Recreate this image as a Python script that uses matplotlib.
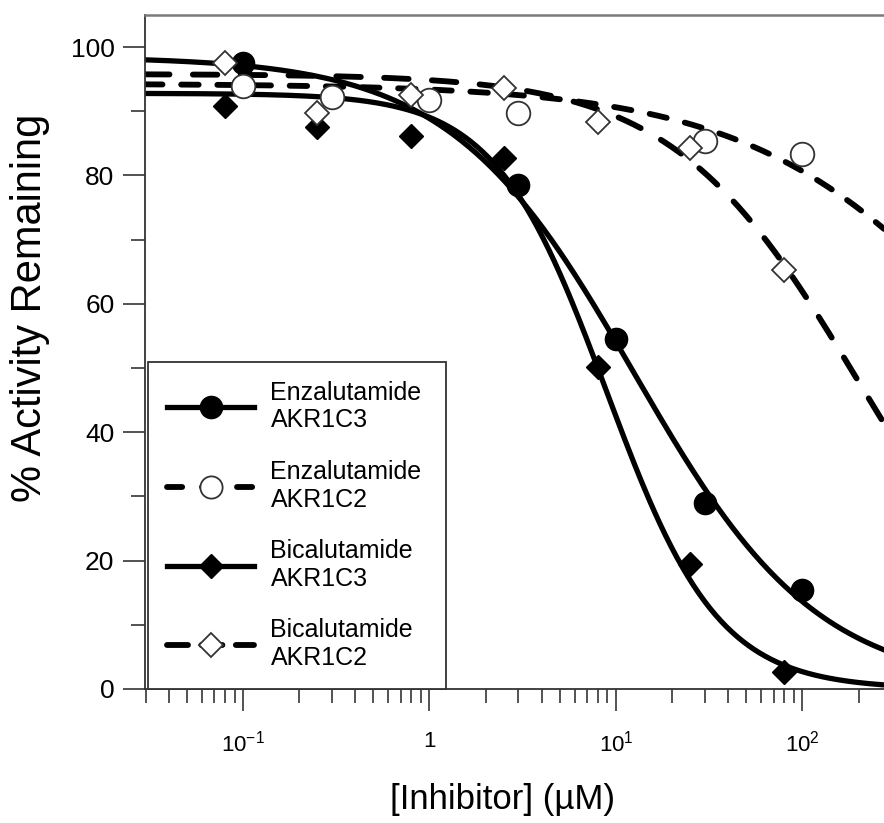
import numpy as np
import matplotlib
matplotlib.use("Agg")
import matplotlib.pyplot as plt
from matplotlib.lines import Line2D
from matplotlib.ticker import FixedLocator, LogLocator, NullFormatter, MultipleLocator

plt.rcParams['font.family'] = ['Liberation Sans', 'DejaVu Sans']
plt.rcParams['mathtext.fontset'] = 'custom'
plt.rcParams['mathtext.rm'] = 'Liberation Sans'
plt.rcParams['mathtext.it'] = 'Liberation Sans'
plt.rcParams['mathtext.bf'] = 'Liberation Sans:bold'

# ---- data ----
conc_enza_akr1c3 = [0.1, 3, 10, 30, 100]
enza_akr1c3 = [97.5, 78.5, 54.5, 29.0, 15.5]
conc_enza_akr1c2 = [0.1, 0.3, 1, 3, 30, 100]
enza_akr1c2 = [94.0, 92.2, 91.7, 89.8, 85.4, 83.3]
conc_bica = [0.08, 0.25, 0.8, 2.5, 8, 25, 80]
bica_akr1c3 = [90.8, 87.6, 86.2, 82.7, 50.2, 19.4, 2.6]
bica_akr1c2 = [97.5, 89.7, 92.6, 93.6, 88.3, 84.3, 65.2]

# fitted dose-response parameters (top, bottom, IC50, hill)
fit_enza_akr1c3 = (98.5, 0.0, 12.5, 0.88)
fit_enza_akr1c2 = (94.3, 0.0, 1760.0, 0.62)
fit_bica_akr1c3 = (92.8, 0.0, 8.9, 1.45)
fit_bica_akr1c2 = (95.8, 0.0, 200.0, 0.87)

labels = ["Enzalutamide\nAKR1C3", "Enzalutamide\nAKR1C2",
          "Bicalutamide\nAKR1C3", "Bicalutamide\nAKR1C2"]

xtick_vals = [0.1, 1, 10, 100]
xtick_labels = [r"$10^{-1}$", "1", r"$10^{1}$", r"$10^{2}$"]
ytick_vals = [0, 20, 40, 60, 80, 100]


def logistic(x, p):
    top, bottom, ic50, h = p
    return bottom + (top - bottom) / (1.0 + (x / ic50) ** h)


fig = plt.figure(figsize=(8.84, 8.23), dpi=100)
ax = fig.add_axes([145 / 884, (823 - 689) / 823, (884 - 145) / 884, (689 - 15) / 823])
ax.set_xscale('log')
xmin, xmax = 0.0298, 274.0
ax.set_xlim(xmin, xmax)
ax.set_ylim(0, 105)

xx = np.logspace(np.log10(xmin), np.log10(xmax), 400)

lw_solid = 3.8
lw_dash = 4.2
dash_enza = (3.0, 3.2)
dash_bica = (4.2, 4.0)

ax.plot(xx, logistic(xx, fit_enza_akr1c3), color='black', lw=lw_solid, zorder=2)
ax.plot(xx, logistic(xx, fit_bica_akr1c3), color='black', lw=lw_solid, zorder=2)
ax.plot(xx, logistic(xx, fit_enza_akr1c2), color='black', lw=lw_dash,
        dashes=dash_enza, dash_capstyle='round', zorder=2)
ax.plot(xx, logistic(xx, fit_bica_akr1c2), color='black', lw=lw_dash,
        dashes=dash_bica, dash_capstyle='round', zorder=2)

ms_c = 16
ms_d = 12.5
ax.plot(conc_enza_akr1c3, enza_akr1c3, 'o', ms=ms_c, mfc='black', mec='black', zorder=4, clip_on=False)
ax.plot(conc_enza_akr1c2, enza_akr1c2, 'o', ms=ms_c + 1, mfc='white', mec='#333333', mew=1.3, zorder=5)
ax.plot(conc_bica, bica_akr1c3, 'D', ms=ms_d, mfc='black', mec='black', zorder=4, clip_on=False)
ax.plot(conc_bica, bica_akr1c2, 'D', ms=ms_d, mfc='white', mec='#333333', mew=1.3, zorder=5)

# axes styling
for s in ['left', 'bottom']:
    ax.spines[s].set_color('#333333')
    ax.spines[s].set_linewidth(1.3)
ax.spines['top'].set_color('#7a7a7a')
ax.spines['top'].set_linewidth(1.8)
ax.spines['right'].set_visible(False)

ax.xaxis.set_major_locator(FixedLocator(xtick_vals))
ax.set_xticklabels(xtick_labels)
ax.xaxis.set_minor_locator(LogLocator(base=10, subs=np.arange(2, 10), numticks=20))
ax.xaxis.set_minor_formatter(NullFormatter())
ax.yaxis.set_major_locator(FixedLocator(ytick_vals))
ax.yaxis.set_minor_locator(MultipleLocator(10))

ax.tick_params(axis='x', which='major', length=16, width=1.3, color='#444444',
               labelsize=16, pad=14)
ax.tick_params(axis='x', which='minor', length=10, width=1.3, color='#444444')
ax.tick_params(axis='y', which='major', length=16, width=1.3, color='#444444',
               labelsize=19, pad=6)
ax.tick_params(axis='y', which='minor', length=10, width=1.3, color='#444444')
ax.tick_params(top=False, right=False, which='both')

fig.text(502 / 884, 1 - 800 / 823, "[Inhibitor] (µM)",
         ha='center', va='center', fontsize=25)
fig.text(30 / 884, 1 - 308 / 823, "% Activity Remaining", rotation=90,
         ha='center', va='center', fontsize=30)

# legend
handles = [
    Line2D([], [], color='black', lw=lw_solid, marker='o', ms=ms_c, mfc='black', mec='black'),
    Line2D([], [], color='black', lw=lw_dash, dashes=(2.6, 3.4), dash_capstyle='round',
           marker='o', ms=ms_c, mfc='white', mec='#333333', mew=1.3),
    Line2D([], [], color='black', lw=lw_solid, marker='D', ms=ms_d, mfc='black', mec='black'),
    Line2D([], [], color='black', lw=lw_dash, dashes=(3.6, 2.3), dash_capstyle='round',
           marker='D', ms=ms_d, mfc='white', mec='#333333', mew=1.3),
]
leg = ax.legend(handles, labels, loc='lower left',
                bbox_to_anchor=(3 / 739, 0.0, (446 - 148) / 739, 0.5),
                mode='expand', fontsize=18, numpoints=1, handlelength=3.5,
                handletextpad=0.65, labelspacing=1.1, borderpad=0.75,
                fancybox=False, framealpha=1, edgecolor='#333333', borderaxespad=0)
leg.get_frame().set_linewidth(1.3)

fig.savefig('out.png', dpi=100)
